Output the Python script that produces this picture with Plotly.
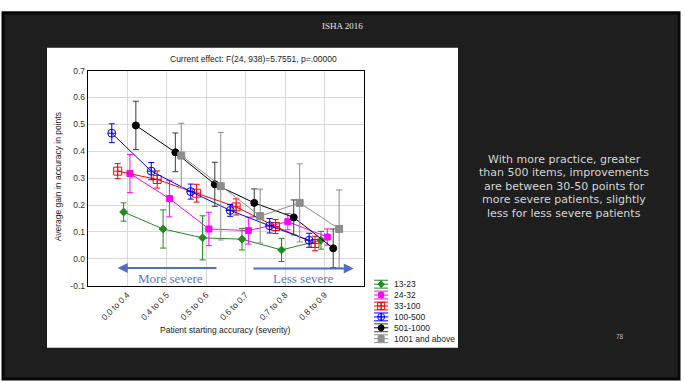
import plotly.graph_objects as go

W, H = 685, 381

# ---- data -----------------------------------------------------------------
categories = ["0.0 to 0.4", "0.4 to 0.5", "0.5 to 0.6",
              "0.6 to 0.7", "0.7 to 0.8", "0.8 to 0.9"]
series_names = ["13-23", "24-32", "33-100", "100-500", "501-1000", "1001 and above"]

gain_13_23 = [0.174, 0.111, 0.078, 0.073, 0.033, 0.069]
err_13_23 = [0.034, 0.071, 0.082, 0.040, 0.043, 0.033]

gain_24_32 = [0.317, 0.224, 0.111, 0.105, 0.138, 0.081]
err_24_32 = [0.071, 0.068, 0.062, 0.050, 0.030, 0.030]

gain_33_100 = [0.326, 0.295, 0.244, 0.193, 0.120, 0.057]
err_33_100 = [0.028, 0.032, 0.033, 0.030, 0.026, 0.027]

gain_100_500 = [0.467, 0.326, 0.250, 0.180, 0.123, 0.069]
err_100_500 = [0.035, 0.032, 0.028, 0.022, 0.027, 0.026]

gain_501_1000 = [0.496, 0.396, 0.277, 0.208, 0.154, 0.039]
err_501_1000 = [0.090, 0.072, 0.082, 0.052, 0.065, 0.072]

gain_1001_up = [None, 0.384, 0.270, 0.159, 0.208, 0.111]
err_1001_up = [None, 0.120, 0.200, 0.100, 0.145, 0.145]

y_ticks = [-0.1, 0.0, 0.1, 0.2, 0.3, 0.4, 0.5, 0.6, 0.7]
y_tick_labels = ["-0.1", "0.0", "0.1", "0.2", "0.3", "0.4", "0.5", "0.6", "0.7"]

note_lines = ["With more practice, greater",
              "than 500 items, improvements",
              "are between 30-50 points for",
              "more severe patients, slightly",
              "less for less severe patients"]

values = [gain_13_23, gain_24_32, gain_33_100, gain_100_500, gain_501_1000, gain_1001_up]
errors = [err_13_23, err_24_32, err_33_100, err_100_500, err_501_1000, err_1001_up]

# ---- styles ---------------------------------------------------------------
styles = [
    dict(color="#1f8a1f", err="#1f8a1f", symbol="diamond", size=6, shift=-0.09),
    dict(color="#ff00ff", err="#ff00ff", symbol="square", size=6, shift=0.07),
    dict(color="#ff0000", err="#ff0000", symbol="square-cross-open", size=8, shift=-0.24),
    dict(color="#0000ff", err="#0000ff", symbol="circle-cross-open", size=8, shift=-0.39),
    dict(color="#000000", err="#3a3a3a", symbol="circle", size=7, shift=0.22),
    dict(color="#8c8c8c", err="#8c8c8c", symbol="square", size=7, shift=0.37),
]

FONT = "Liberation Sans, Arial, sans-serif"
SERIF = "Liberation Serif, Times New Roman, serif"


def px(x):
    return x / W


def py(y):
    return 1 - y / H


def note(x, y, text, font, **kw):
    d = dict(x=px(x), y=py(y), xref="paper", yref="paper", text=text, showarrow=False,
             xanchor="center", yanchor="middle", font=font)
    d.update(kw)
    return d


fig = go.Figure()

for name, vals, errs, st in zip(series_names, values, errors, styles):
    xs, ys, es = [], [], []
    for i, (v, e) in enumerate(zip(vals, errs)):
        if v is None:
            continue
        xs.append(i + 1 + st["shift"])
        ys.append(v)
        es.append(e)
    fig.add_trace(go.Scatter(
        x=xs, y=ys, name=name, mode="lines+markers",
        line=dict(color=st["color"], width=1),
        marker=dict(symbol=st["symbol"], size=st["size"], color=st["color"],
                    line=dict(color=st["color"], width=1)),
        error_y=dict(type="data", array=es, color=st["err"], thickness=1, width=3),
        cliponaxis=False, hoverinfo="skip",
    ))

# ---- hand-built legend on its own small axes (units = pixels / rows) --------
GLYPH_W = 14.3
for k, (name, st) in enumerate(zip(series_names, styles)):
    row = k + 1
    fig.add_trace(go.Scatter(
        x=[0, GLYPH_W], y=[row, row], mode="lines", xaxis="x2", yaxis="y2",
        line=dict(color=st["color"], width=1), hoverinfo="skip", showlegend=False,
    ))
    fig.add_trace(go.Scatter(
        x=[GLYPH_W / 2], y=[row], mode="markers", xaxis="x2", yaxis="y2",
        marker=dict(symbol=st["symbol"], size=st["size"] - 1, color=st["color"],
                    line=dict(color=st["color"], width=1)),
        error_y=dict(type="data", array=[0.36], color=st["err"], thickness=1, width=7),
        hoverinfo="skip", showlegend=False, cliponaxis=False,
    ))

annotations = []
for k, name in enumerate(series_names):
    annotations.append(dict(
        x=GLYPH_W + 3.5, y=k + 1, xref="x2", yref="y2", text=name, showarrow=False,
        xanchor="left", yanchor="middle", font=dict(family=FONT, size=8.5, color="#222222"),
    ))

# direction arrows and their captions
arrow_col = "#4f6fc6"
annotations += [
    dict(x=0.76, y=-0.034, ax=3.30, ay=-0.034, xref="x", yref="y", axref="x", ayref="y",
         text="", showarrow=True, arrowhead=2, arrowsize=1, arrowwidth=2, arrowcolor=arrow_col),
    dict(x=6.74, y=-0.036, ax=4.16, ay=-0.036, xref="x", yref="y", axref="x", ayref="y",
         text="", showarrow=True, arrowhead=2, arrowsize=1, arrowwidth=2, arrowcolor=arrow_col),
    dict(x=2.09, y=-0.073, xref="x", yref="y", text="More severe", showarrow=False,
         xanchor="center", yanchor="middle",
         font=dict(family=SERIF, size=13, color="#5a78cc")),
    dict(x=5.47, y=-0.073, xref="x", yref="y", text="Less severe", showarrow=False,
         xanchor="center", yanchor="middle",
         font=dict(family=SERIF, size=13, color="#5a78cc")),
]

# chart and axis titles
small = dict(family=FONT, size=8.5, color="#222222")
annotations += [
    note(253, 55, "Current effect: F(24, 938)=5.7551, p=.00000", small),
    note(58, 177, "Average gain in accuracy in points", small, textangle=-90),
    note(225, 334, "Patient starting accuracy (severity)", small),
]

# slide texts
annotations.append(note(342, 22, "ISHA 2016", dict(family=SERIF, size=9, color="#e6e6e6")))
for j, line in enumerate(note_lines):
    annotations.append(note(564, 158.5 + 13.8 * j, line,
                            dict(family="DejaVu Sans, sans-serif", size=11, color="#d6d6d6")))
annotations.append(note(620, 340, "78", dict(family=FONT, size=6.5, color="#bbbbbb")))

shapes = [
    # dark slide
    dict(type="rect", xref="paper", yref="paper", x0=px(3), x1=px(679), y0=py(384), y1=py(8),
         fillcolor="#1e1e1e", line=dict(color="#070707", width=3), layer="below"),
    # white chart panel
    dict(type="rect", xref="paper", yref="paper", x0=px(47), x1=px(458), y0=py(352), y1=py(44),
         fillcolor="#ffffff", line=dict(width=0), layer="below"),
]

fig.update_layout(
    width=W, height=H,
    margin=dict(l=0, r=0, t=0, b=0),
    paper_bgcolor="#ffffff",
    plot_bgcolor="rgba(0,0,0,0)",
    showlegend=False,
    annotations=annotations,
    shapes=shapes,
    xaxis=dict(
        domain=[px(87.7), px(364)], range=[0, 7],
        tickmode="array", tickvals=list(range(1, len(categories) + 1)), ticktext=categories,
        tickangle=-45, tickfont=dict(family=FONT, size=8.5, color="#333333"),
        showgrid=True, gridcolor="#d9d9d9", gridwidth=1, zeroline=False,
        showline=True, linecolor="#000000", linewidth=1, mirror=True, ticks="",
        fixedrange=True,
    ),
    yaxis=dict(
        domain=[py(288.3), py(67.3)], range=[-0.1, 0.7],
        tickmode="array", tickvals=y_ticks, ticktext=y_tick_labels,
        tickfont=dict(family=FONT, size=8.5, color="#333333"),
        showgrid=True, gridcolor="#d9d9d9", gridwidth=1, zeroline=False,
        showline=True, linecolor="#000000", linewidth=1, mirror=True, ticks="",
        fixedrange=True,
    ),
    xaxis2=dict(domain=[px(374), px(456)], range=[0, 82], anchor="y2", visible=False),
    yaxis2=dict(domain=[py(348.3), py(281.1)], range=[6.5, 0.5], anchor="x2", visible=False),
)

fig.write_html("out.html")
